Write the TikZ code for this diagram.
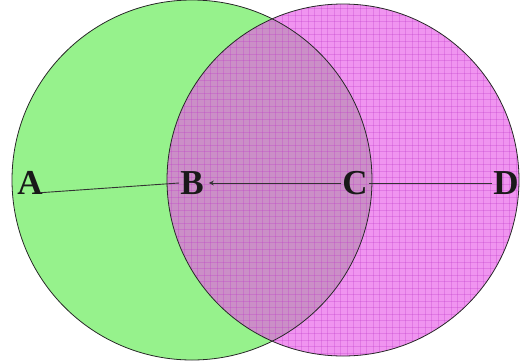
\documentclass[tikz,border=0pt]{standalone}
\usepackage{fontspec}
\setmainfont{Liberation Serif}
\usepackage{tikz}
\usetikzlibrary{arrows.meta, positioning, calc}
\definecolor{leafgreen}{RGB}{150,242,140}
\definecolor{pinkfill}{RGB}{232,90,232}
\definecolor{gridpink}{RGB}{190,60,200}
\definecolor{rimdark}{RGB}{40,40,40}
\tikzset{
  disc/.style={draw=rimdark, line width=0.8pt},
  pt/.style={inner sep=1pt, font=\fontsize{35}{35}\selectfont\bfseries, text=black!90},
  seg/.style={line width=0.9pt, color=black!80},
  arrow/.style={seg, -{Stealth[length=5pt,width=5pt]}},
  gridline/.style={gridpink, line width=0.5pt, opacity=0.3},
}

\begin{document}
\begin{tikzpicture}[x=1pt, y=-1pt]
  \useasboundingbox (0,0) rectangle (520,360);
  \coordinate (gc) at (192,180);
  \coordinate (mc) at (343,180);

  % green circle
  \fill[leafgreen] (gc) circle (180);
  % magenta circle, see-through, with grid
  \fill[pinkfill, opacity=0.65] (mc) circle (176);
  \begin{scope}
    \clip (mc) circle (176);
    \foreach \k in {0,...,56} {
      \draw[gridline] (165+6.5*\k,0) -- (165+6.5*\k,360);
      \draw[gridline] (160,2+6.5*\k) -- (520,2+6.5*\k);
    }
  \end{scope}
  \draw[disc] (gc) circle (180);
  \draw[disc] (mc) circle (176);

  \node (A) [pt] at (30,183)  {A};
  \node (B) [pt] at (192,183) {B};
  \node (C) [pt] at (355,183) {C};
  \node (D) [pt] at (506,183) {D};

  \draw[seg]   ($(A.south east)+(-4,-3)$) -- (B.west);
  \draw[arrow] (C.west) -- ($(B.east)+(4,0)$);
  \draw[seg]   (C.east) -- (D.west);
\end{tikzpicture}
\end{document}
